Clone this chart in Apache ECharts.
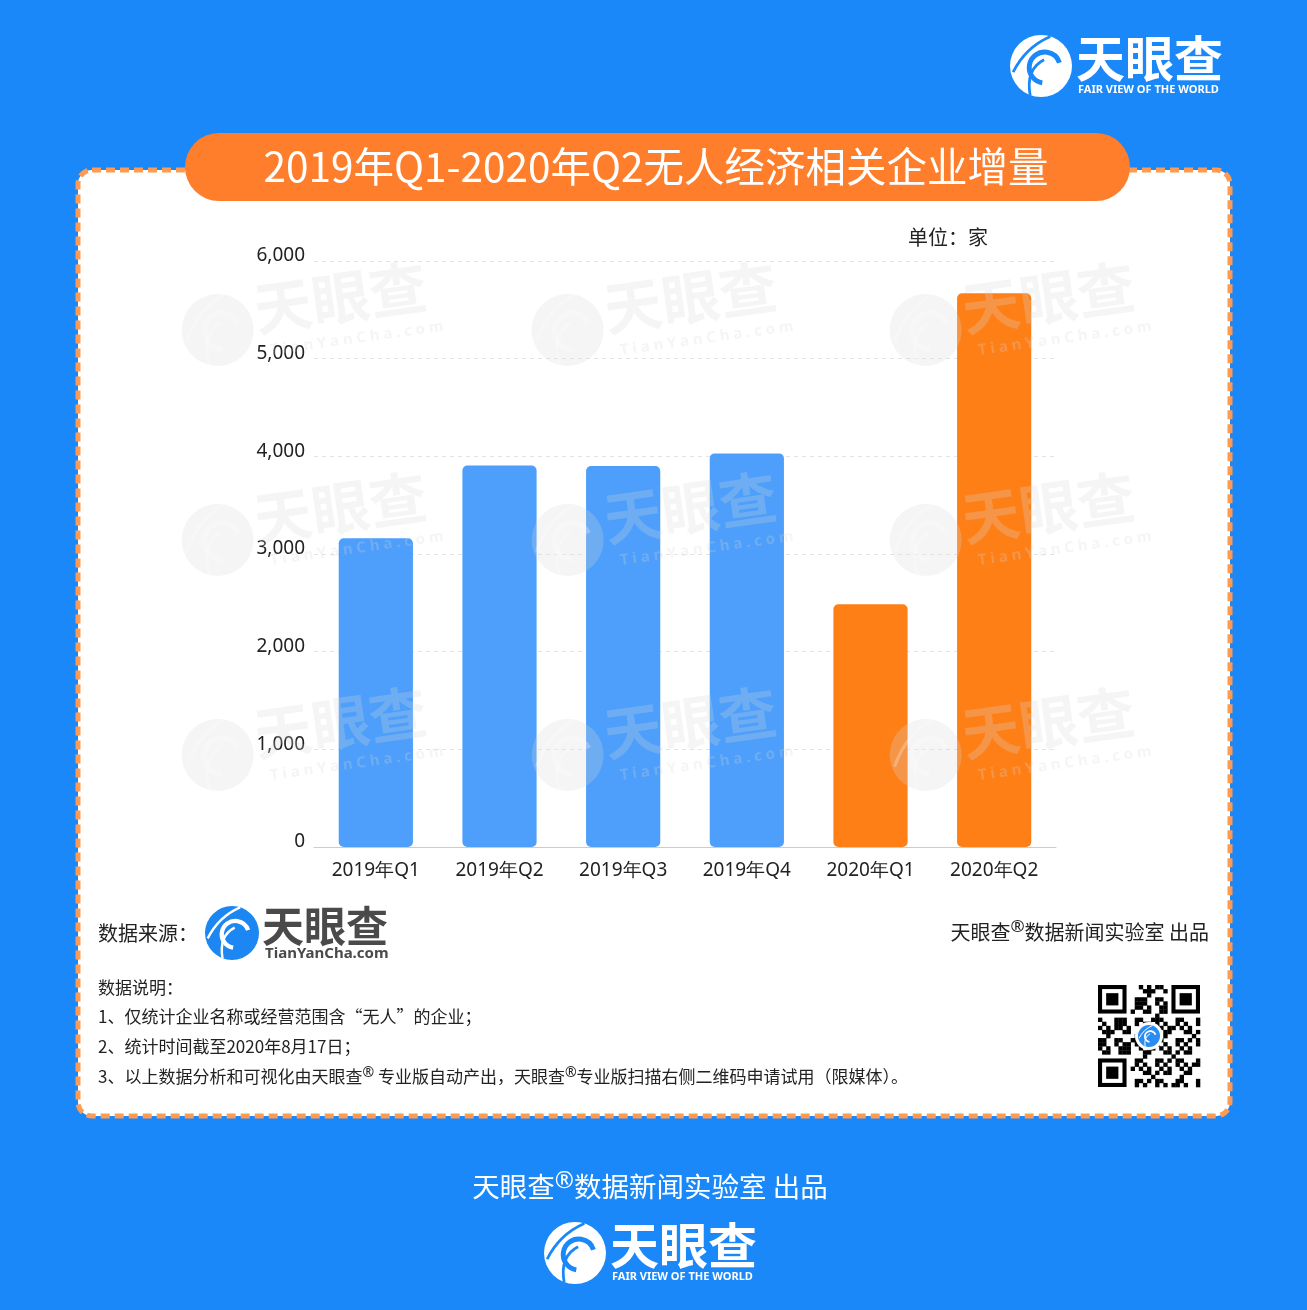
<!DOCTYPE html>
<html><head><meta charset="utf-8">
<script src="https://cdn.jsdelivr.net/npm/echarts@6/dist/echarts.min.js"></script>
<style>html,body{margin:0;padding:0;background:#1A88F8;}#c{width:1307px;height:1310px;}</style>
</head><body><div id="c"></div>
<script>
var categories = ['2019年Q1','2019年Q2','2019年Q3','2019年Q4','2020年Q1','2020年Q2'];
var values = [3160, 3905, 3900, 4030, 2485, 5670];
var barColors = ['#4D9FFB','#4D9FFB','#4D9FFB','#4D9FFB','#FF7F17','#FF7F17'];
var yMin = 0, yMax = 6000, yInterval = 1000;
var title = '2019年Q1-2020年Q2无人经济相关企业增量';
var unitText = '单位：家';
var notes = ['数据说明：','1、仅统计企业名称或经营范围含“无人”的企业；','2、统计时间截至2020年8月17日；','3、以上数据分析和可视化由天眼查{r|®} 专业版自动产出，天眼查{r|®}专业版扫描右侧二维码申请试用（限媒体）。'];
var creditText = '天眼查{r|®}数据新闻实验室 出品';

var CJK = '"Noto Sans CJK SC","Noto Sans",sans-serif';
var LAT = '"Noto Sans","Open Sans",sans-serif';

function logoIcon(cx, cy, r, fill, swirl, z, opacity) {
  var o = opacity == null ? 1 : opacity;
  return [
    {type:'circle', z:z, shape:{cx:cx, cy:cy, r:r}, style:{fill:fill, opacity:o}},
    {type:'arc', z:z, shape:{cx:cx+r*0.12, cy:cy+r*0.05, r:r*0.5, startAngle:Math.PI*0.55, endAngle:Math.PI*1.9}, style:{stroke:swirl, lineWidth:r*0.16, fill:null, opacity:o}},
    {type:'bezierCurve', z:z, shape:{x1:cx-r*0.9, y1:cy+r*0.2, cpx1:cx-r*0.5, cpy1:cy-r*0.6, x2:cx+r*0.3, y2:cy-r*0.95}, style:{stroke:swirl, lineWidth:r*0.09, fill:null, opacity:o}},
    {type:'bezierCurve', z:z, shape:{x1:cx-r*0.35, y1:cy+r*0.95, cpx1:cx-r*0.5, cpy1:cy+r*0.1, x2:cx+r*0.1, y2:cy-r*0.2}, style:{stroke:swirl, lineWidth:r*0.09, fill:null, opacity:o}}
  ];
}

function richText(x, y, text, size, color, align, z) {
  return {type:'text', z:z, x:x, y:y, style:{text:text, fill:color, font:size+'px '+CJK, fontSize:size, fontFamily:CJK,
    textAlign:align, textVerticalAlign:'middle',
    rich:{r:{fontSize:Math.round(size*0.85), fontFamily:LAT, fill:color, padding:[0,0,Math.round(size*0.45),0]}}}};
}

var g = [];
// card
g.push({type:'rect', z:0, shape:{x:78, y:170, width:1152, height:946, r:14}, style:{fill:'#FFFFFF', stroke:'#FF9A52', lineWidth:5, lineDash:[9,5]}});
// title pill
g.push({type:'rect', z:1, shape:{x:185, y:133, width:945, height:68, r:34}, style:{fill:'#FF7E2C'}});
g.push({type:'text', z:2, x:656, y:167, style:{text:title, fill:'#FFFFFF', font:'40.5px '+CJK, textAlign:'center', textVerticalAlign:'middle'}});
// unit
g.push({type:'text', z:2, x:908, y:237, style:{text:unitText, fill:'#222', font:'20px '+CJK, textAlign:'left', textVerticalAlign:'middle'}});
// top logo
g = g.concat(logoIcon(1041, 66, 31, '#FFFFFF', '#1A88F8', 2));
g.push({type:'text', z:2, x:1076, y:58, style:{text:'天眼查', fill:'#FFFFFF', font:'bold 49px '+CJK, textAlign:'left', textVerticalAlign:'middle'}});
g.push({type:'text', z:2, x:1078, y:90, style:{text:'FAIR VIEW OF THE WORLD', fill:'#FFFFFF', font:'bold 11px '+LAT, textAlign:'left', textVerticalAlign:'middle'}});
// source
g.push({type:'text', z:2, x:98, y:933, style:{text:'数据来源：', fill:'#222', font:'20px '+CJK, textAlign:'left', textVerticalAlign:'middle'}});
g = g.concat(logoIcon(232, 933, 27, '#1C86F2', '#FFFFFF', 2));
g.push({type:'text', z:2, x:262, y:926, style:{text:'天眼查', fill:'#4A4A4A', font:'bold 42px '+CJK, textAlign:'left', textVerticalAlign:'middle'}});
g.push({type:'text', z:2, x:265, y:954, style:{text:'TianYanCha.com', fill:'#4A4A4A', font:'bold 15px '+LAT, textAlign:'left', textVerticalAlign:'middle'}});
g.push(richText(1209, 932, creditText, 20, '#222', 'right', 2));
// notes
var noteY = [988, 1017, 1047, 1077];
for (var i = 0; i < notes.length; i++) {
  g.push(richText(98, noteY[i], notes[i], 17, '#222', 'left', 2));
}
// QR-like decoration
(function(){
  var x0 = 1098, y0 = 985, n = 25, s = 102 / n;
  g.push({type:'rect', z:2, shape:{x:x0, y:y0, width:102, height:102}, style:{fill:'#FFFFFF'}});
  function finder(fx, fy) {
    g.push({type:'rect', z:3, shape:{x:x0+fx*s, y:y0+fy*s, width:7*s, height:7*s}, style:{fill:'#000'}});
    g.push({type:'rect', z:3, shape:{x:x0+(fx+1)*s, y:y0+(fy+1)*s, width:5*s, height:5*s}, style:{fill:'#FFF'}});
    g.push({type:'rect', z:3, shape:{x:x0+(fx+2)*s, y:y0+(fy+2)*s, width:3*s, height:3*s}, style:{fill:'#000'}});
  }
  for (var r = 0; r < n; r++) for (var c = 0; c < n; c++) {
    var inF = (r < 8 && c < 8) || (r < 8 && c > n-9) || (r > n-9 && c < 8);
    if (inF) continue;
    if (((r*7 + c*13 + r*c) % 5) < 2 || ((r+c)%7===0)) {
      g.push({type:'rect', z:3, shape:{x:x0+c*s, y:y0+r*s, width:s+0.3, height:s+0.3}, style:{fill:'#000'}});
    }
  }
  finder(0,0); finder(n-7,0); finder(0,n-7);
  g.push({type:'circle', z:4, shape:{cx:x0+51, cy:y0+51, r:14}, style:{fill:'#FFFFFF'}});
  g = g.concat(logoIcon(x0+51, y0+51, 11, '#2A8CF0', '#FFFFFF', 5));
})();
// bottom credit + logo
g.push(richText(650, 1187, creditText, 27.5, '#FFFFFF', 'center', 2));
g = g.concat(logoIcon(575, 1253, 31, '#FFFFFF', '#1A88F8', 2));
g.push({type:'text', z:2, x:610, y:1245, style:{text:'天眼查', fill:'#FFFFFF', font:'bold 49px '+CJK, textAlign:'left', textVerticalAlign:'middle'}});
g.push({type:'text', z:2, x:612, y:1277, style:{text:'FAIR VIEW OF THE WORLD', fill:'#FFFFFF', font:'bold 11px '+LAT, textAlign:'left', textVerticalAlign:'middle'}});
// watermarks
var wmX = [182, 532, 890], wmY = [335, 545, 760];
for (var a = 0; a < wmX.length; a++) for (var b = 0; b < wmY.length; b++) {
  var wx = wmX[a], wy = wmY[b];
  var kids = logoIcon(36, 0, 36, '#D8D8D8', '#FFFFFF', 20, 1);
  kids.push({type:'text', z:20, x:75, y:-15, style:{text:'天眼查', fill:'#D8D8D8', font:'bold 58px '+CJK, textAlign:'left', textVerticalAlign:'middle'}});
  kids.push({type:'text', z:20, x:85, y:28, style:{text:'T i a n Y a n C h a . c o m', fill:'#D8D8D8', font:'bold 15px '+LAT, textAlign:'left', textVerticalAlign:'middle'}});
  g.push({type:'group', x:wx, y:wy, rotation:0.14, z:20, children:kids.map(function(k){k.style.opacity=0.25;return k;})});
}

var chart = echarts.init(document.getElementById('c'));
chart.setOption({
  backgroundColor:'#1A88F8',
  animation:false,
  grid:{left:314, right:251, top:261, bottom:463, containLabel:false},
  xAxis:{type:'category', data:categories,
    axisLine:{lineStyle:{color:'#CCCCCC', width:1}}, axisTick:{show:false},
    axisLabel:{color:'#222', fontSize:19, fontFamily:LAT, margin:14}},
  yAxis:{type:'value', min:yMin, max:yMax, interval:yInterval,
    axisLine:{show:false}, axisTick:{show:false},
    splitLine:{lineStyle:{color:'#E4E4E4', type:[4,4]}},
    axisLabel:{color:'#222', fontSize:19, fontFamily:LAT, margin:9, verticalAlign:'bottom', lineHeight:10,
      formatter:function(v){return v.toLocaleString('en-US');}}},
  series:[{type:'bar', barWidth:'60%', z:2,
    data:values.map(function(v,i){return {value:v, itemStyle:{color:barColors[i], borderRadius:5}};})}],
  graphic:g
});
</script></body></html>
